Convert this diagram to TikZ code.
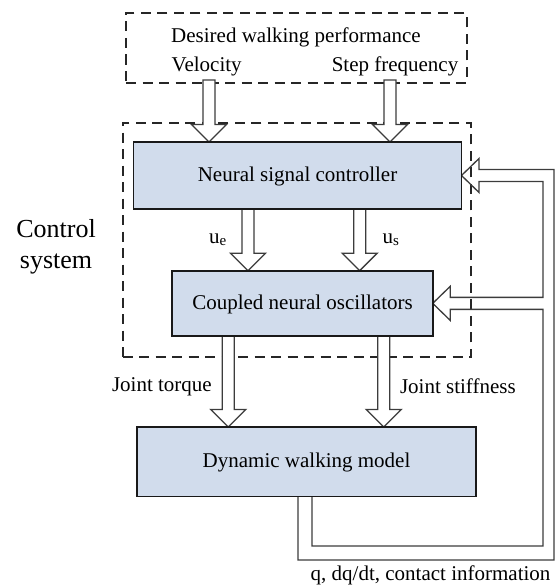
\documentclass[tikz,border=0pt]{standalone}
\usepackage{fontspec}
\setmainfont{Liberation Serif}
\usetikzlibrary{calc}
\pgfdeclarelayer{back}
\pgfdeclarelayer{mid}
\pgfsetlayers{back,mid,main}

\definecolor{boxfill}{RGB}{209,220,236}
\definecolor{arrowline}{RGB}{60,60,60}

% Hollow downward block arrow from #1 (shaft start) to #2 (tip);
% #3 is "-- cycle" to close the shaft top, or empty to leave it open.
\newcommand{\blockdown}[3]{%
  \fill[white] ($(#1)+(-6,0)$) -- ($(#2)+(-6,-17.5)$) -- ($(#2)+(-17.5,-17.5)$) -- (#2)
    -- ($(#2)+(17.5,-17.5)$) -- ($(#2)+(6,-17.5)$) -- ($(#1)+(6,0)$) -- cycle;
  \draw[blockline] ($(#1)+(-6,0)$) -- ($(#2)+(-6,-17.5)$) -- ($(#2)+(-17.5,-17.5)$) -- (#2)
    -- ($(#2)+(17.5,-17.5)$) -- ($(#2)+(6,-17.5)$) -- ($(#1)+(6,0)$) #3;}

\begin{document}
\begin{tikzpicture}[x=1pt,y=-1pt,
  every node/.style={font=\fontsize{21}{25}\selectfont, inner sep=0pt, outer sep=0pt},
  block/.style={draw=black!90, line width=1.8pt, fill=boxfill,
                text height=16pt, text depth=3.8pt},
  dashedbox/.style={draw=black!85, line width=1.8pt, dash pattern=on 10pt off 6.5pt},
  blockline/.style={draw=arrowline, line width=1.3pt, line join=miter},
  txt/.style={anchor=base west},
  biglabel/.style={anchor=base, font=\fontsize{26}{30}\selectfont}
]
\useasboundingbox (0,0) rectangle (555,586);

% dashed groupings
\begin{pgfonlayer}{back}
  \node[dashedbox, minimum width=340.7, minimum height=69.4] (perf) at (296.35,48) {};
  \node[dashedbox, minimum width=348, minimum height=234.6] (ctrl) at (296.7,240) {};
\end{pgfonlayer}

% blocks
\node[block, minimum width=328, minimum height=67] (neural) at (297.5,175.5) {Neural signal controller};
\node[block, minimum width=260.4, minimum height=65.3] (coupled) at (302.5,303.35) {Coupled neural oscillators};
\node[block, minimum width=339, minimum height=69.5] (dyn) at (306.5,461.75) {Dynamic walking model};

% texts
\node[anchor=base] (perftitle) at (296,43) {Desired walking performance};
\node[txt] (velo) at (171.7,71) {Velocity};
\node[anchor=base east] (freq) at (458.3,71) {Step frequency};
\node[biglabel] (ctrl1) at (56,237.3) {Control};
\node[biglabel] (ctrl2) at (56,268.3) {system};
\node[txt] (ue) at (209,243.3) {u\raisebox{-2.5pt}{\fontsize{15}{15}\selectfont e}};
\node[txt] (us) at (382.7,243.3) {u\raisebox{-2.5pt}{\fontsize{15}{15}\selectfont s}};
\node[txt] (torque) at (112,391) {Joint torque};
\node[txt] (stiff) at (400,393) {Joint stiffness};
\node[txt] (sensed) at (310.7,580) {q, dq/dt, contact information};

% arrow columns
\coordinate (cv) at (209,80);
\coordinate (cf) at (390,80);
\coordinate (xe) at (248,0);
\coordinate (xs) at (359.7,0);
\coordinate (xt) at (228.3,0);
\coordinate (xk) at (383.8,0);

\begin{pgfonlayer}{mid}
  \blockdown{cv}{cv |- neural.north}{-- cycle}
  \blockdown{cf}{cf |- neural.north}{-- cycle}
  \blockdown{xe |- neural.south}{xe |- coupled.north}{}
  \blockdown{xs |- neural.south}{xs |- coupled.north}{}
  \blockdown{xt |- coupled.south}{xt |- dyn.north}{}
  \blockdown{xk |- coupled.south}{xk |- dyn.north}{}

  % hollow feedback path from the walking model back to both controller blocks
  \draw[blockline]
    ($(dyn.south)+(-8.5,0)$) |- (554,560)
    |- ($(neural.east)+(17.5,-6)$) -- ($(neural.east)+(17.5,-17)$) -- (neural.east)
    -- ($(neural.east)+(17.5,17)$) -- ($(neural.east)+(17.5,6)$)
    -| ($(coupled.east)+(110.3,-6)$) -- ($(coupled.east)+(17.5,-6)$)
    -- ($(coupled.east)+(17.5,-17)$) -- (coupled.east)
    -- ($(coupled.east)+(17.5,17)$) -- ($(coupled.east)+(17.5,6)$)
    -| (543,546) -| ($(dyn.south)+(5.5,0)$);
\end{pgfonlayer}
\end{tikzpicture}
\end{document}
